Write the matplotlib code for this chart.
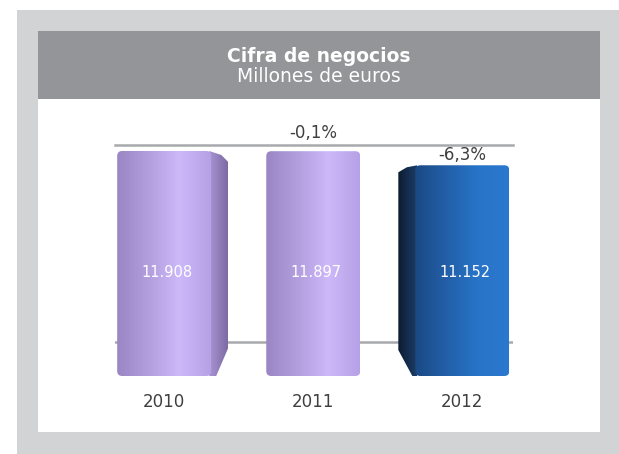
import numpy as np
import matplotlib.pyplot as plt
from matplotlib.patches import Rectangle, FancyBboxPatch, Polygon
from matplotlib.colors import LinearSegmentedColormap

# ── Data ──────────────────────────────────────────────────────────────────────
years = ['2010', '2011', '2012']
ventas = [11908, 11897, 11152]            # millones de euros
etiquetas = ['11.908', '11.897', '11.152']
variacion = ['', '-0,1%', '-6,3%']

# ── Style ─────────────────────────────────────────────────────────────────────
W, H = 619, 454
GRIS_MARCO = '#d1d3d4'
GRIS_TITULO = '#939598'
GRIS_LINEA = '#a7a9ac'
TEXTO = '#3f3f3f'

cara = [['#9a86c3', '#b29edd', '#cdb8fa', '#b6a1e6'],
        ['#9a86c3', '#b29edd', '#cdb8fa', '#b6a1e6'],
        ['#1b4984', '#225fa8', '#2874c8', '#2a78cf']]
lado = [('right', ['#a995d3', '#7c6aa3']),
        None,
        ('left', ['#0d1c31', '#1b3c66'])]
var_offset = [0, 18, 10]                  # px above bar top for the % labels

fig = plt.figure(figsize=(W / 100, H / 100), dpi=100)
fig.patch.set_facecolor('white')


def caja(x0, y0, x1, y1):
    """pixel box (top-left origin) -> figure fraction rect"""
    return (x0 / W, 1 - y1 / H, (x1 - x0) / W, (y1 - y0) / H)


def rect(x0, y0, x1, y1, color):
    l, b, w, h = caja(x0, y0, x1, y1)
    fig.add_artist(Rectangle((l, b), w, h, transform=fig.transFigure,
                             facecolor=color, edgecolor='none', zorder=-10))


rect(17, 10, W, H, GRIS_MARCO)
rect(38, 31, 600, 432, 'white')
rect(38, 31, 600, 99, GRIS_TITULO)

fig.text(319 / W, 1 - 57 / H, 'Cifra de negocios', color='white',
         fontsize=13.5, fontweight='bold', ha='center', va='center')
fig.text(319 / W, 1 - 76 / H, 'Millones de euros', color='white',
         fontsize=13.5, ha='center', va='center')

# ── Axes ──────────────────────────────────────────────────────────────────────
ax = fig.add_axes(caja(115, 145, 513, 376))
ax.patch.set_alpha(0)
xmin, xmax = -0.33, 2.34
ymax = 12225
ax.set_xlim(xmin, xmax)
ax.set_ylim(0, ymax)
for s in ['left', 'right', 'bottom']:
    ax.spines[s].set_visible(False)
ax.spines['top'].set_color(GRIS_LINEA)
ax.spines['top'].set_linewidth(1.8)
suelo = 1800
ax.axhline(suelo, color=GRIS_LINEA, lw=1.8, zorder=0.5)

ax.set_yticks([])
ax.set_xticks(range(len(years)))
ax.set_xticklabels(years, fontsize=12, color=TEXTO)
ax.tick_params(axis='x', length=0, pad=12)

pxx = 398 / (xmax - xmin)      # px per x unit
pxy = 231 / ymax               # px per y unit
bw = 94 / pxx
r = 5


def degradado(patch, colores, x0, x1, y0, y1, z):
    ax.add_patch(patch)
    cmap = LinearSegmentedColormap.from_list('g', colores)
    im = ax.imshow(np.linspace(0, 1, 256)[None, :], cmap=cmap, aspect='auto',
                   extent=(x0, x1, y0, y1), zorder=z, interpolation='bilinear')
    im.set_clip_path(patch)
    return im


for i, v in enumerate(ventas):
    x0, x1 = i - bw / 2, i + bw / 2
    face = FancyBboxPatch((x0, 0), bw, v,
                          boxstyle=f'round,pad=0,rounding_size={r / pxx}',
                          mutation_aspect=pxx / pxy,
                          facecolor='none', edgecolor='none', zorder=2)
    degradado(face, cara[i], x0, x1, 0, v, 2)

    if lado[i] is not None:
        side, cols = lado[i]
        dx = 17 / pxx
        if side == 'right':
            pts = [(x1 - 2 / pxx, v), (x1 + dx * 0.6, v - 4 / pxy),
                   (x1 + dx, v - 11 / pxy), (x1 + dx, 28 / pxy),
                   (x1 + 5 / pxx, 0), (x1 - 2 / pxx, 0)]
            ext = (x1 - 2 / pxx, x1 + dx)
        else:
            pts = [(x0 + 2 / pxx, v), (x0 - dx * 0.5, v - 2 / pxy),
                   (x0 - dx, v - 7 / pxy), (x0 - dx, 26 / pxy),
                   (x0 - 3 / pxx, 0), (x0 + 2 / pxx, 0)]
            ext = (x0 - dx, x0 + 2 / pxx)
        poly = Polygon(pts, closed=True, facecolor='none', edgecolor='none',
                       zorder=1.9)
        degradado(poly, cols, ext[0], ext[1], 0, v, 1.9)

    ax.text(i + 0.02, 5500, etiquetas[i], color='white', fontsize=10.5,
            ha='center', va='center', zorder=5)
    if variacion[i]:
        ax.annotate(variacion[i], (i, v), xytext=(0, var_offset[i] * 0.72),
                    textcoords='offset points', ha='center', va='center',
                    fontsize=12, color=TEXTO, annotation_clip=False)

ax.set_xlim(xmin, xmax)
ax.set_ylim(0, ymax)

fig.savefig('out.png', dpi=100)
